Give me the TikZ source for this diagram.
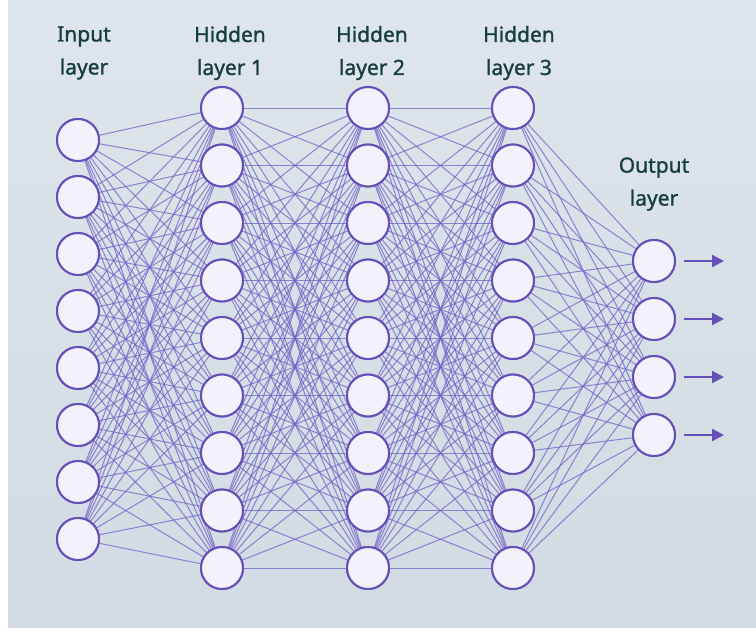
\documentclass[tikz,border=0pt]{standalone}
\usepackage{fontspec}
\setmainfont{Noto Sans}[FakeBold=1.2]
\usetikzlibrary{arrows.meta}
\definecolor{panelTop}{HTML}{DEE5EB}
\definecolor{panelBot}{HTML}{D2DBE3}
\definecolor{edgeCol}{HTML}{7360C8}
\definecolor{ringCol}{HTML}{6650B8}
\definecolor{fillCol}{HTML}{F3F1FB}
\definecolor{labelCol}{HTML}{173F3A}
\tikzset{
  neuron/.style={circle, draw=ringCol, line width=2pt, fill=fillCol, minimum size=42pt, inner sep=0pt},
  link/.style={draw=edgeCol, line width=1pt, opacity=0.75},
  outarrow/.style={draw=ringCol, line width=2.4pt, -{Triangle[length=12pt,width=12pt]}},
  layerlabel/.style={text=labelCol, align=center, font=\fontsize{21}{33}\selectfont}
}
\begin{document}
\begin{tikzpicture}[x=1pt,y=-1pt]
  \useasboundingbox (0,0) rectangle (756,632);
  \fill[white] (0,0) rectangle (756,632);
  \shade[top color=panelTop, bottom color=panelBot] (8,0) rectangle (756,627);

  % input layer: 8 neurons
  \foreach \i in {1,...,8}
    \node[neuron] (a\i) at (78,{140+57*(\i-1)}) {};
  % hidden layers: 9 neurons each
  \foreach \i in {1,...,9} {
    \node[neuron] (b\i) at (222,{108+57.5*(\i-1)}) {};
    \node[neuron] (c\i) at (368,{108+57.5*(\i-1)}) {};
    \node[neuron] (d\i) at (513,{108+57.5*(\i-1)}) {};
  }
  % output layer: 4 neurons
  \foreach \i in {1,...,4}
    \node[neuron] (e\i) at (654,{261+58*(\i-1)}) {};

  % full connections between neighbouring layers
  \foreach \i in {1,...,8}
    \foreach \j in {1,...,9}
      \path[link] (a\i) -- (b\j);
  \foreach \i in {1,...,9}
    \foreach \j in {1,...,9} {
      \path[link] (b\i) -- (c\j);
      \path[link] (c\i) -- (d\j);
    }
  \foreach \i in {1,...,9}
    \foreach \j in {1,...,4}
      \path[link] (d\i) -- (e\j);

  % redraw neurons above the links
  \foreach \i in {1,...,8}
    \node[neuron] at (a\i) {};
  \foreach \i in {1,...,9} {
    \node[neuron] at (b\i) {};
    \node[neuron] at (c\i) {};
    \node[neuron] at (d\i) {};
  }
  \foreach \i in {1,...,4}
    \node[neuron] at (e\i) {};

  % output arrows
  \foreach \i in {1,...,4} {
    \coordinate (o\i) at ([xshift=70pt]e\i.center);
    \draw[outarrow] ([xshift=8pt]e\i.east) -- (o\i);
  }

  % layer captions
  \node[layerlabel] (la) at (84,53) {Input\\layer};
  \node[layerlabel] (lb) at (230,53) {Hidden\\layer 1};
  \node[layerlabel] (lc) at (372,53) {Hidden\\layer 2};
  \node[layerlabel] (ld) at (519,53) {Hidden\\layer 3};
  \node[layerlabel] (le) at (654,184) {Output\\layer};
\end{tikzpicture}
\end{document}
